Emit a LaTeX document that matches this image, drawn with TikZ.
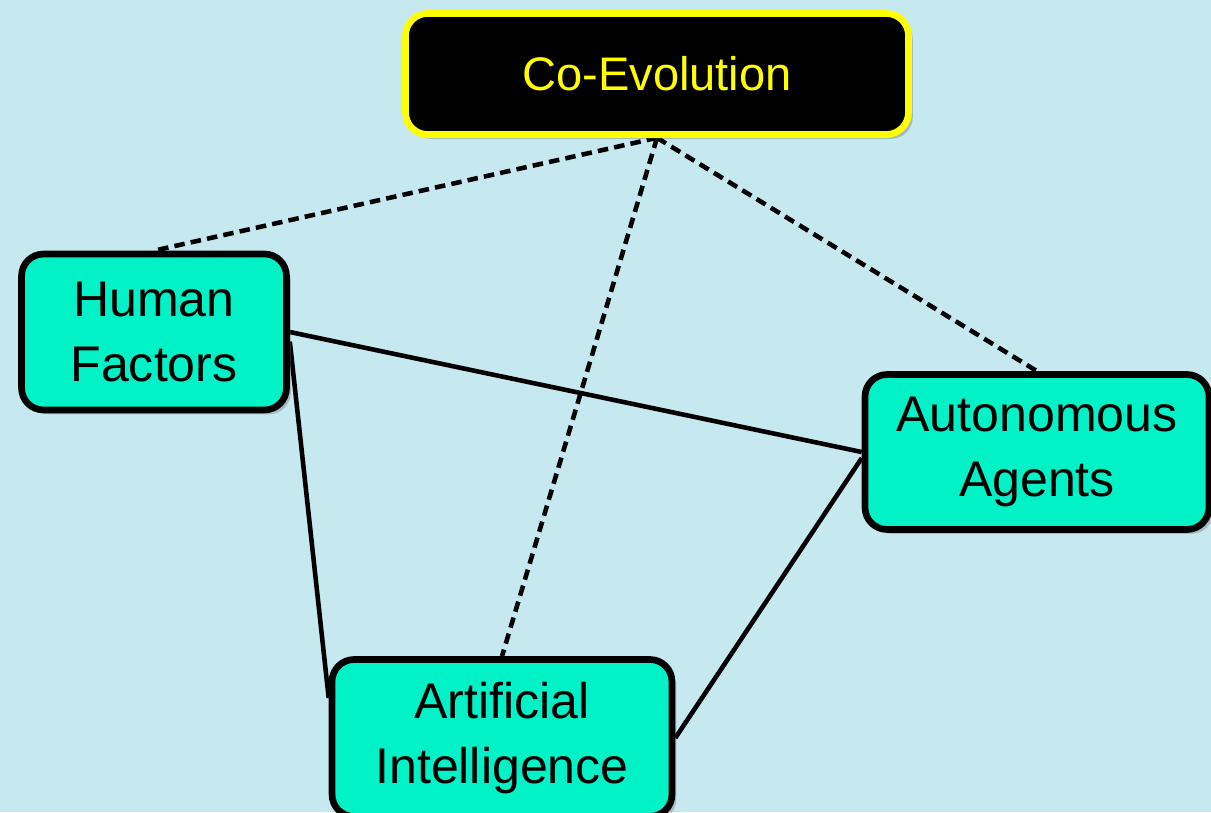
\documentclass[tikz,border=0pt]{standalone}
\usepackage{fontspec}
\setmainfont{Liberation Sans}
\usetikzlibrary{shadows,backgrounds}
\definecolor{bgblue}{RGB}{198,233,239}
\definecolor{teal}{RGB}{0,242,198}
\definecolor{yel}{RGB}{255,255,0}
\tikzset{
  box/.style={draw=black, line width=3.8pt, fill=teal, rounded corners=0.44cm,
    align=center, font=\fontsize{28.5}{36.5}\selectfont, inner sep=0pt,
    drop shadow={shadow xshift=2.5pt, shadow yshift=-2.5pt, opacity=0.35, fill=black!60}},
  topbox/.style={draw=yel, line width=3.8pt, fill=black, text=yel, rounded corners=0.44cm,
    align=center, font=\fontsize{26.8}{34}\selectfont, inner sep=0pt,
    drop shadow={shadow xshift=2.5pt, shadow yshift=-2.5pt, opacity=0.35, fill=black!60}},
  dashlink/.style={draw=black, line width=2.6pt, dash pattern=on 6pt off 3.5pt},
  solidlink/.style={draw=black, line width=2.6pt}
}
\begin{document}
\begin{tikzpicture}[x=0.02cm,y=-0.02cm]
\useasboundingbox (0,0) rectangle (1211,812);
\clip (0,0) rectangle (1211,812);
\node[topbox, minimum width=10.06cm, minimum height=2.42cm] (CE) at (657,74) {Co-Evolution};
\node[box, minimum width=5.3cm, minimum height=3.12cm] (HF) at (154,332) {Human\\Factors};
\node[box, minimum width=6.88cm, minimum height=3.1cm] (AA) at (1037,452) {Autonomous\\Agents};
\node[box, minimum width=6.8cm, minimum height=3.14cm] (AI) at (502,738) {Artificial\\Intelligence};
\begin{scope}[on background layer]
  \fill[bgblue] (0,0) rectangle (1211,812);
  \draw[dashlink] (CE.south) -- (HF.north);
  \draw[dashlink] (CE.south) -- (AI.north);
  \draw[dashlink] (CE.south) -- (AA.north);
  \draw[solidlink] (HF.east) -- (AA.west);
  \draw[solidlink] (HF.-4) -- (AI.167);
  \draw[solidlink] (AA.182) -- (AI.east);
\end{scope}
\end{tikzpicture}
\end{document}
